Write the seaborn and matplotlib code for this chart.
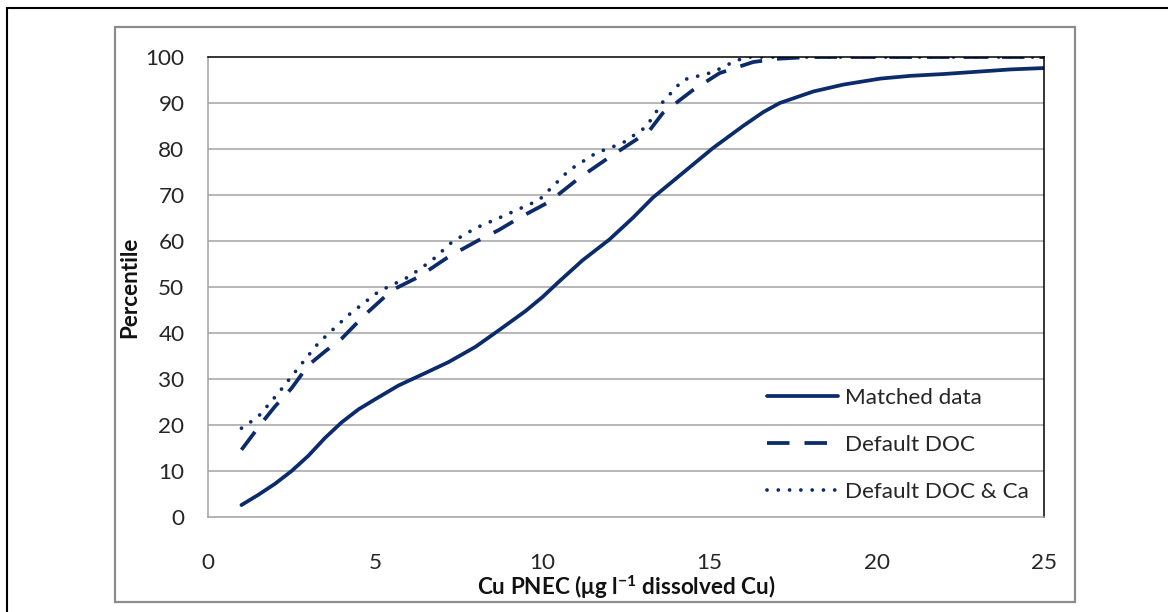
import matplotlib
matplotlib.use("Agg")
import matplotlib.pyplot as plt
from matplotlib.lines import Line2D
from matplotlib.patches import Rectangle
import seaborn as sns

# Cumulative distributions of Cu PNEC values (percentile vs. PNEC)
matched_x = [1.0, 1.5, 2.0, 2.5, 3.0, 3.5, 4.0, 4.5, 5.0, 5.7, 6.5, 7.2, 8.0, 8.7, 9.5, 10.0, 10.5, 11.2, 12.0, 12.7, 13.3, 14.2, 15.1, 16.0, 16.6, 17.1, 18.1, 19.0, 20.1, 21.0, 22.0, 23.0, 24.0, 25.0]
matched_y = [2.6, 4.8, 7.2, 10.0, 13.3, 17.2, 20.6, 23.4, 25.6, 28.6, 31.3, 33.7, 37.0, 40.6, 44.8, 47.8, 51.2, 55.8, 60.3, 65.0, 69.4, 74.8, 80.2, 85.0, 88.0, 90.0, 92.5, 94.0, 95.3, 95.9, 96.3, 96.8, 97.3, 97.6]

doc_x = [1.0, 1.6, 2.0, 2.5, 3.0, 3.5, 4.0, 4.7, 5.5, 6.3, 7.2, 8.1, 8.7, 9.3, 10.2, 11.1, 12.0, 12.8, 13.2, 13.6, 14.5, 15.3, 16.3, 17.0, 18.0, 20.0, 22.0, 25.0]
doc_y = [14.6, 20.4, 24.0, 28.0, 33.0, 36.0, 38.8, 44.0, 49.3, 52.2, 56.6, 60.2, 62.4, 65.0, 68.5, 73.7, 78.2, 82.0, 84.0, 87.8, 92.8, 96.5, 98.9, 99.6, 100.0, 100.0, 100.0, 100.0]

docca_x = [1.0, 1.5, 2.1, 2.7, 3.3, 4.2, 5.1, 6.0, 6.7, 7.3, 8.0, 8.7, 9.9, 10.8, 11.6, 12.4, 13.1, 13.6, 14.2, 15.1, 15.7, 16.1, 17.0, 18.0, 20.0, 22.0, 25.0]
docca_y = [19.3, 21.8, 26.9, 32.4, 37.8, 43.9, 49.0, 52.2, 55.8, 59.8, 62.8, 65.0, 68.9, 75.4, 79.1, 81.3, 84.8, 90.2, 95.0, 96.7, 98.9, 100.0, 100.0, 100.0, 100.0, 100.0, 100.0]

series_labels = ["Matched data", "Default DOC", "Default DOC & Ca"]
x_ticks = [0, 5, 10, 15, 20, 25]
y_ticks = [0, 10, 20, 30, 40, 50, 60, 70, 80, 90, 100]

sns.set_theme(style="white")
plt.rcParams["font.family"] = ["Lato", "DejaVu Sans"]
plt.rcParams["mathtext.fontset"] = "custom"
plt.rcParams["mathtext.rm"] = "Lato"
plt.rcParams["mathtext.it"] = "Lato:italic"
plt.rcParams["mathtext.bf"] = "Lato:bold"

W, H = 1168, 612
fs = 16.2
fig = plt.figure(figsize=(W / 100, H / 100), dpi=100)
fig.patch.set_facecolor("white")

# page frame (left and top rules) and the chart-area border
fig.add_artist(Line2D([7 / W, 7 / W], [0, 1 - 8 / H], color="black", lw=1.5, transform=fig.transFigure))
fig.add_artist(Line2D([7 / W, 1], [1 - 8 / H, 1 - 8 / H], color="black", lw=1.5, transform=fig.transFigure))
fig.add_artist(Rectangle((115 / W, 1 - 602 / H), (1075 - 115) / W, (602 - 27) / H,
                         fill=False, edgecolor="#8c8c8c", lw=1.6, transform=fig.transFigure))

ax = fig.add_axes([208 / W, 1 - 517 / H, (1044 - 208) / W, (517 - 57) / H])
ax.set_facecolor("white")

navy = "#0c2b6b"
lw = 2.7
sns.lineplot(x=matched_x, y=matched_y, ax=ax, color=navy, lw=lw, label=series_labels[0],
             solid_capstyle="round", solid_joinstyle="round", sort=False)
sns.lineplot(x=doc_x, y=doc_y, ax=ax, color=navy, lw=lw, label=series_labels[1],
             linestyle=(0, (6.0, 4.0)), dash_capstyle="butt", sort=False)
sns.lineplot(x=docca_x, y=docca_y, ax=ax, color=navy, lw=lw, label=series_labels[2],
             linestyle=(0, (0.01, 3.0)), dash_capstyle="round", sort=False)

ax.set_xlim(0, 25)
ax.set_ylim(0, 100)
ax.set_xticks(x_ticks)
ax.set_yticks(y_ticks)
ax.set_xticklabels([str(t) for t in x_ticks])
ax.set_yticklabels([str(t) for t in y_ticks])

for y in y_ticks[1:-1]:
    ax.axhline(y, color="#a3a3a3", lw=1.1, zorder=0)

for side in ["left", "bottom"]:
    ax.spines[side].set_color("#a0a0a0")
    ax.spines[side].set_linewidth(1.1)
for side in ["top", "right"]:
    ax.spines[side].set_color("black")
    ax.spines[side].set_linewidth(1.1)

ax.tick_params(axis="both", which="major", direction="out", length=5, width=1.0,
               color="#a0a0a0", labelsize=fs, labelcolor="#262626")
ax.tick_params(axis="x", pad=21)
ax.tick_params(axis="y", pad=12)

ax.set_xlabel(r"Cu PNEC ($\mathbf{\mu}$g l$^{\mathbf{-1}}$ dissolved Cu)", fontsize=fs,
              fontweight="bold", color="#111111", labelpad=0)
ax.set_ylabel("Percentile", fontsize=fs, fontweight="bold", color="#111111", labelpad=4)

leg = ax.legend(loc="center left", bbox_to_anchor=((767 - 208) / 836, (517 - 445) / 460),
                frameon=False, fontsize=fs, handlelength=3.15, handletextpad=0.3,
                labelspacing=1.21, borderpad=0, borderaxespad=0)
for t in leg.get_texts():
    t.set_color("#262626")

fig.savefig("out.png", dpi=100, facecolor="white")
